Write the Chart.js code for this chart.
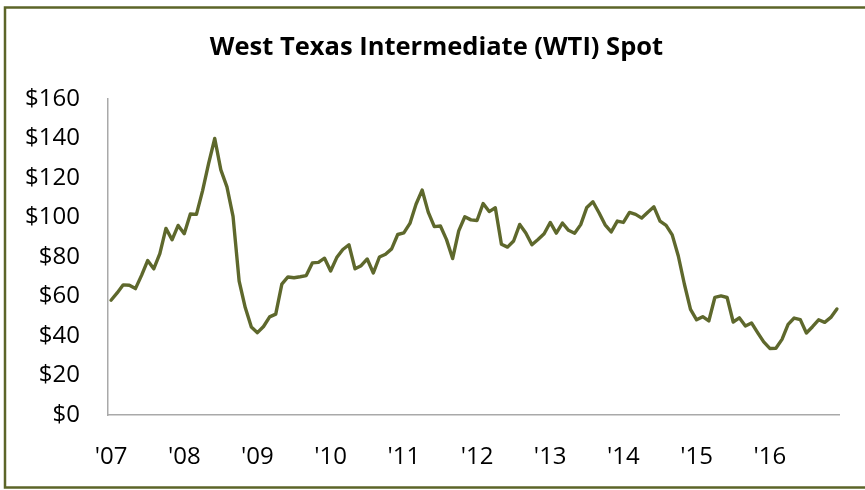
<!DOCTYPE html>
<html>
<head>
<meta charset="utf-8">
<script src="https://cdn.jsdelivr.net/npm/chart.js@4"></script>
<style>
  html, body { margin: 0; padding: 0; background: #ffffff; }
  #wrap { position: relative; width: 865px; height: 490px; }
</style>
</head>
<body>
<div id="wrap"><canvas id="c" width="865" height="490"></canvas></div>
<script>
// Tick labels (year starts)
const years = ["'07", "'08", "'09", "'10", "'11", "'12", "'13", "'14", "'15", "'16"];
// Y-axis tick values
const yTicks = [0, 20, 40, 60, 80, 100, 120, 140, 160];
// Monthly WTI spot (USD/bbl)
const p2007 = [58.1, 61.8, 65.9, 65.7, 64.0, 70.7, 78.2, 74.0, 81.7, 94.5, 88.7, 96.0];
const p2008 = [91.8, 101.8, 101.6, 113.5, 127.4, 140.0, 124.1, 115.5, 100.6, 67.8, 54.4, 44.6];
const p2009 = [41.7, 44.8, 49.7, 51.1, 66.3, 69.9, 69.5, 70.0, 70.6, 77.0, 77.3, 79.4];
const p2010 = [72.9, 79.7, 83.8, 86.2, 74.0, 75.6, 79.0, 71.9, 80.0, 81.4, 84.1, 91.4];
const p2011 = [92.2, 97.0, 106.7, 113.9, 102.7, 95.4, 95.7, 88.8, 79.2, 93.2, 100.4, 98.8];
const p2012 = [98.5, 107.1, 103.0, 104.9, 86.5, 85.0, 88.1, 96.5, 92.2, 86.2, 88.9, 91.8];
const p2013 = [97.5, 92.1, 97.2, 93.5, 92.0, 96.4, 105.1, 108.0, 102.4, 96.3, 92.7, 98.2];
const p2014 = [97.5, 102.6, 101.6, 99.7, 102.7, 105.4, 98.2, 96.0, 91.2, 80.5, 66.2, 53.5];
const p2015 = [48.2, 49.8, 47.6, 59.6, 60.3, 59.5, 47.1, 49.2, 45.1, 46.6, 41.7, 37.0];
const p2016 = [33.7, 33.8, 38.3, 45.9, 49.1, 48.3, 41.5, 44.7, 48.2, 46.9, 49.4, 53.7];

const series = [p2007, p2008, p2009, p2010, p2011, p2012, p2013, p2014, p2015, p2016];
const values = [].concat(...series);
const labels = [];
years.forEach(y => { for (let m = 0; m < 12; m++) labels.push(m === 0 ? y : ''); });

const OLIVE = '#5e682c';
const AXIS = '#a9a9a9';

const borderPlugin = {
  id: 'outerBorder',
  afterDraw(chart) {
    const ctx = chart.ctx;
    ctx.save();
    ctx.strokeStyle = '#5c6528';
    ctx.lineWidth = 2.5;
    ctx.strokeRect(5, 7.5, 900, 480);
    ctx.restore();
  }
};

new Chart(document.getElementById('c'), {
  type: 'line',
  data: {
    labels: labels,
    datasets: [{
      data: values,
      yAxisID: 'y',
      borderColor: OLIVE,
      borderWidth: 3.4,
      pointRadius: 0,
      pointHoverRadius: 0,
      tension: 0,
      fill: false,
      borderJoinStyle: 'round',
      borderCapStyle: 'round'
    }]
  },
  options: {
    responsive: false,
    animation: false,
    events: [],
    layout: { padding: { left: 8, right: 0, top: 0, bottom: 0 } },
    plugins: {
      legend: { display: false },
      tooltip: { enabled: false },
      title: {
        display: true,
        text: 'West Texas Intermediate (WTI) Spot',
        color: '#000000',
        font: { family: 'Open Sans', size: 25.5, weight: 'bold', lineHeight: 1.2 },
        padding: { top: 32.5, bottom: 35.9 }
      }
    },
    scales: {
      x: {
        type: 'category',
        offset: true,
        grid: { display: false, drawTicks: false },
        border: { display: true, color: AXIS, width: 1.5 },
        ticks: {
          autoSkip: false,
          maxRotation: 0,
          minRotation: 0,
          padding: 28,
          color: '#000000',
          font: { family: 'Open Sans', size: 24 }
        },
        afterFit(scale) { scale.height = 75; }
      },
      y: {
        min: 0,
        max: 160,
        afterBuildTicks(scale) { scale.ticks = yTicks.map(v => ({ value: v })); },
        grid: { display: false, drawTicks: false },
        border: { display: true, color: AXIS, width: 1.5 },
        ticks: {
          padding: 28,
          color: '#000000',
          font: { family: 'Open Sans', size: 24 },
          callback: v => '$' + v
        },
        afterFit(scale) { scale.width = 100; }
      },
      yRight: {
        type: 'linear',
        axis: 'y',
        position: 'right',
        min: 0,
        max: 1,
        grid: { display: false, drawTicks: false },
        border: { display: false },
        ticks: { display: false },
        afterFit(scale) { scale.width = 24; }
      }
    }
  },
  plugins: [borderPlugin]
});
</script>
</body>
</html>
